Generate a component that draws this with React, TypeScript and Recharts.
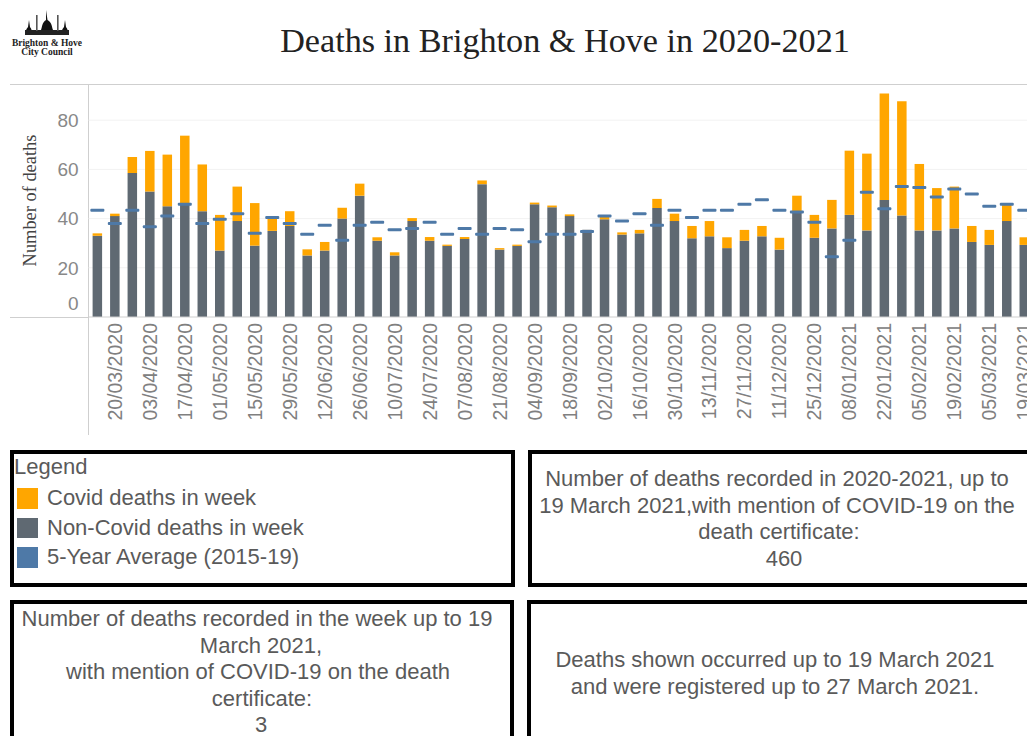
import { ComposedChart, Bar, Line, XAxis, YAxis, CartesianGrid } from "recharts";

const weeks = [
  "13/03/2020", "20/03/2020", "27/03/2020", "03/04/2020", "10/04/2020", "17/04/2020", "24/04/2020", "01/05/2020", "08/05/2020",
  "15/05/2020", "22/05/2020", "29/05/2020", "05/06/2020", "12/06/2020", "19/06/2020", "26/06/2020", "03/07/2020", "10/07/2020",
  "17/07/2020", "24/07/2020", "31/07/2020", "07/08/2020", "14/08/2020", "21/08/2020", "28/08/2020", "04/09/2020", "11/09/2020",
  "18/09/2020", "25/09/2020", "02/10/2020", "09/10/2020", "16/10/2020", "23/10/2020", "30/10/2020", "06/11/2020", "13/11/2020",
  "20/11/2020", "27/11/2020", "04/12/2020", "11/12/2020", "18/12/2020", "25/12/2020", "01/01/2021", "08/01/2021", "15/01/2021",
  "22/01/2021", "29/01/2021", "05/02/2021", "12/02/2021", "19/02/2021", "26/02/2021", "05/03/2021", "12/03/2021", "19/03/2021",
];

const nonCovid = [
  33, 41, 58.5, 51, 45, 46, 43, 27, 39, 29, 35, 37, 25, 27, 40, 49.3, 31, 25, 39, 31, 28.9, 31.7, 54, 27.4, 28.9, 45.8, 44.6,
  41, 35.5, 39.7, 33.5, 34, 44.3, 39, 32, 32.8, 28, 31, 32.8, 27.4, 42.7, 32.2, 36, 41.5, 35.2, 47.6, 41.3, 35.2, 35.2, 36,
  30.5, 29.3, 39, 29.3,
];
const covid = [
  1, 1, 6.5, 16.5, 21, 27.7, 19, 14.5, 14, 17.3, 6, 6, 2.5, 3.5, 4.4, 4.9, 1.4, 1.3, 1.2, 1.5, 0.5, 0.8, 1.5, 0.6, 0.5, 0.7, 0.7,
  0.7, 0, 1.3, 0.9, 1.4, 3.7, 3, 5, 6.2, 4.4, 4.4, 4.2, 4.8, 6.6, 9.3, 11.6, 26.1, 31.2, 43.2, 46.4, 27, 17.2, 17, 6.5, 6.1,
  6.8, 3.1,
];
const average = [
  43.4, 38, 43.4, 36.7, 41, 45.8, 38, 39.7, 42, 34, 40.4, 38, 33.6, 37.3, 31.2, 37.3, 38.5, 35.5, 36, 38.5, 33.6, 36, 33.6, 36,
  35.5, 30.6, 33.6, 33.6, 34.8, 41, 39, 42, 37.3, 43.4, 40.4, 43.4, 43.4, 45.8, 47.7, 43.4, 42.7, 38.5, 24.5, 31.2, 50.7, 44, 53,
  52.6, 48.8, 52, 50, 45, 45.8, 43.4,
];

const tickDates = [
  "20/03/2020", "03/04/2020", "17/04/2020", "01/05/2020", "15/05/2020", "29/05/2020", "12/06/2020", "26/06/2020", "10/07/2020",
  "24/07/2020", "07/08/2020", "21/08/2020", "04/09/2020", "18/09/2020", "02/10/2020", "16/10/2020", "30/10/2020", "13/11/2020",
  "27/11/2020", "11/12/2020", "25/12/2020", "08/01/2021", "22/01/2021", "05/02/2021", "19/02/2021", "05/03/2021", "19/03/2021",
];
const yTicks = [0, 20, 40, 60, 80];

const legendItems = [
  { label: "Covid deaths in week", color: "#ffa600" },
  { label: "Non-Covid deaths in week", color: "#5f6972" },
  { label: "5-Year Average (2015-19)", color: "#4e79a7" },
];

const data = weeks.map((week, i) => ({ week, nonCovid: nonCovid[i], covid: covid[i], average: average[i] }));

const SANS = "'Liberation Sans', Arial, sans-serif";
const SERIF = "'Liberation Serif', serif";
const TEXT = "#5a5a5a";
const RULE = "#cfcfcf";

const YTick = ({ x, y, payload }: any) => (
  // the zero label sits above the baseline in the original
  <text x={x} y={payload.value === 0 ? y - 14 : y} dy="0.36em" textAnchor="end" fill="#888" fontSize={19} fontFamily={SANS}>
    {payload.value}
  </text>
);

const XTick = ({ x, y, payload }: any) => (
  <text
    transform={`translate(${x},${y}) rotate(-90)`}
    dy="0.36em"
    textAnchor="end"
    fill="#808080"
    fontSize={19.5}
    fontFamily={SANS}
  >
    {payload.value}
  </text>
);

const AverageDash = ({ cx, cy, index }: any) => (
  <rect key={index} x={cx - 7} y={cy - 1.5} width={14} height={3} rx={1} fill="#4e79a7" />
);

const box = (left: number, top: number, width: number, height: number): React.CSSProperties => ({
  position: "absolute",
  left,
  top,
  width,
  height,
  boxSizing: "border-box",
  border: "4px solid #000",
  color: TEXT,
  fontFamily: SANS,
  fontSize: 22,
  lineHeight: "26.5px",
  textAlign: "center",
  whiteSpace: "nowrap",
});

const rule = (left: number, top: number, width: number, height: number): React.CSSProperties => ({
  position: "absolute",
  left,
  top,
  width,
  height,
  background: RULE,
});

// centred lines in the original are not quite on one axis
const Nudged = ({ by, children }: { by: number; children: React.ReactNode }) => (
  <div style={{ position: "relative", left: by }}>{children}</div>
);

const Logo = () => (
  <div style={{ position: "absolute", left: 7, top: 10, width: 80, textAlign: "center" }}>
    <svg width={50} height={26} viewBox="0 0 50 26" style={{ display: "block", margin: "0 auto" }}>
      <path d="M24 0 L25.5 10 C30 12 30 18 31 20 L19 20 C20 18 20 12 24 10 Z" fill="#111" />
      <path d="M7 10 L8 17 C10 19 10 22 10 25 L3 25 C3 22 4 19 6 17 Z" fill="#111" />
      <path d="M43 10 L44 17 C46 19 46 22 46 25 L39 25 C39 22 40 19 42 17 Z" fill="#111" />
      <rect x={3} y={20} width={44} height={5} fill="#222" />
      <rect x={14} y={5} width={1.6} height={16} fill="#555" />
      <rect x={35} y={5} width={1.6} height={16} fill="#555" />
    </svg>
    <div style={{ fontFamily: SERIF, fontWeight: "bold", fontSize: 9.5, lineHeight: "8.5px", color: "#222", marginTop: 3 }}>
      Brighton &amp; Hove
      <br />
      City Council
    </div>
  </div>
);

export default function App() {
  return (
    <div style={{ position: "absolute", left: 0, top: 0, width: 1027, height: 736, overflow: "hidden", background: "#fff" }}>
      <Logo />
      <div
        style={{
          position: "absolute",
          left: 0,
          width: 1130,
          top: 22,
          textAlign: "center",
          fontFamily: SERIF,
          fontSize: 34.2,
          lineHeight: "38px",
          color: "#222",
        }}
      >
        Deaths in Brighton &amp; Hove in 2020-2021
      </div>

      <div style={rule(10, 84, 1017, 1)} />
      <div style={rule(10, 317, 78, 1)} />
      <div style={rule(88, 84, 1, 351)} />

      <div style={{ position: "absolute", left: 0, top: 84 }}>
        <ComposedChart
          width={1033}
          height={352}
          data={data}
          barSize={9.5}
          margin={{ top: 0, right: 0, bottom: 0, left: 0 }}
        >
          <CartesianGrid horizontal vertical={false} stroke="#f2f2f2" horizontalValues={[20, 40, 60, 80]} />
          <XAxis
            dataKey="week"
            ticks={tickDates}
            interval={0}
            height={119}
            axisLine={{ stroke: RULE }}
            tickLine={false}
            tick={<XTick />}
            tickMargin={0}
          />
          <YAxis
            width={88.6}
            domain={[0, 94.7]}
            ticks={yTicks}
            axisLine={false}
            tickLine={false}
            tick={<YTick />}
            tickMargin={4}
            label={{
              value: "Number of deaths",
              angle: -90,
              position: "center",
              dx: -15,
              fill: "#444",
              fontSize: 18.4,
              fontFamily: SERIF,
            }}
          />
          <Bar dataKey="nonCovid" stackId="deaths" fill="#5f6972" isAnimationActive={false} />
          <Bar dataKey="covid" stackId="deaths" fill="#ffa600" isAnimationActive={false} />
          <Line dataKey="average" stroke="none" dot={<AverageDash />} activeDot={false} isAnimationActive={false} />
        </ComposedChart>
      </div>

      <div style={{ ...box(10, 450, 505, 137), textAlign: "left", paddingLeft: 0 }}>
        <div>Legend</div>
        {legendItems.map((item) => (
          <div key={item.label} style={{ display: "flex", alignItems: "center", height: 29.5, position: "relative", top: 3 }}>
            <span style={{ width: 20.5, height: 20.5, marginLeft: 3, marginRight: 9.5, background: item.color }} />
            {item.label}
          </div>
        ))}
      </div>

      <div style={{ ...box(528, 450, 520, 137), paddingTop: 12, paddingLeft: 4, paddingRight: 26 }}>
        <div>Number of deaths recorded in 2020-2021, up to</div>
        <div>19 March 2021,with mention of COVID-19 on the</div>
        <Nudged by={2}>death certificate:</Nudged>
        <Nudged by={7}>460</Nudged>
      </div>

      <div style={{ ...box(10, 600, 504, 160), paddingTop: 2, paddingRight: 6 }}>
        <Nudged by={-2}>Number of deaths recorded in the week up to 19</Nudged>
        <Nudged by={2}>March 2021,</Nudged>
        <Nudged by={-1}>with mention of COVID-19 on the death</Nudged>
        <Nudged by={3}>certificate:</Nudged>
        <Nudged by={2}>3</Nudged>
      </div>

      <div style={{ ...box(527, 600, 520, 160), paddingTop: 43, paddingRight: 24 }}>
        Deaths shown occurred up to 19 March 2021
        <br />
        and were registered up to 27 March 2021.
      </div>
    </div>
  );
}
